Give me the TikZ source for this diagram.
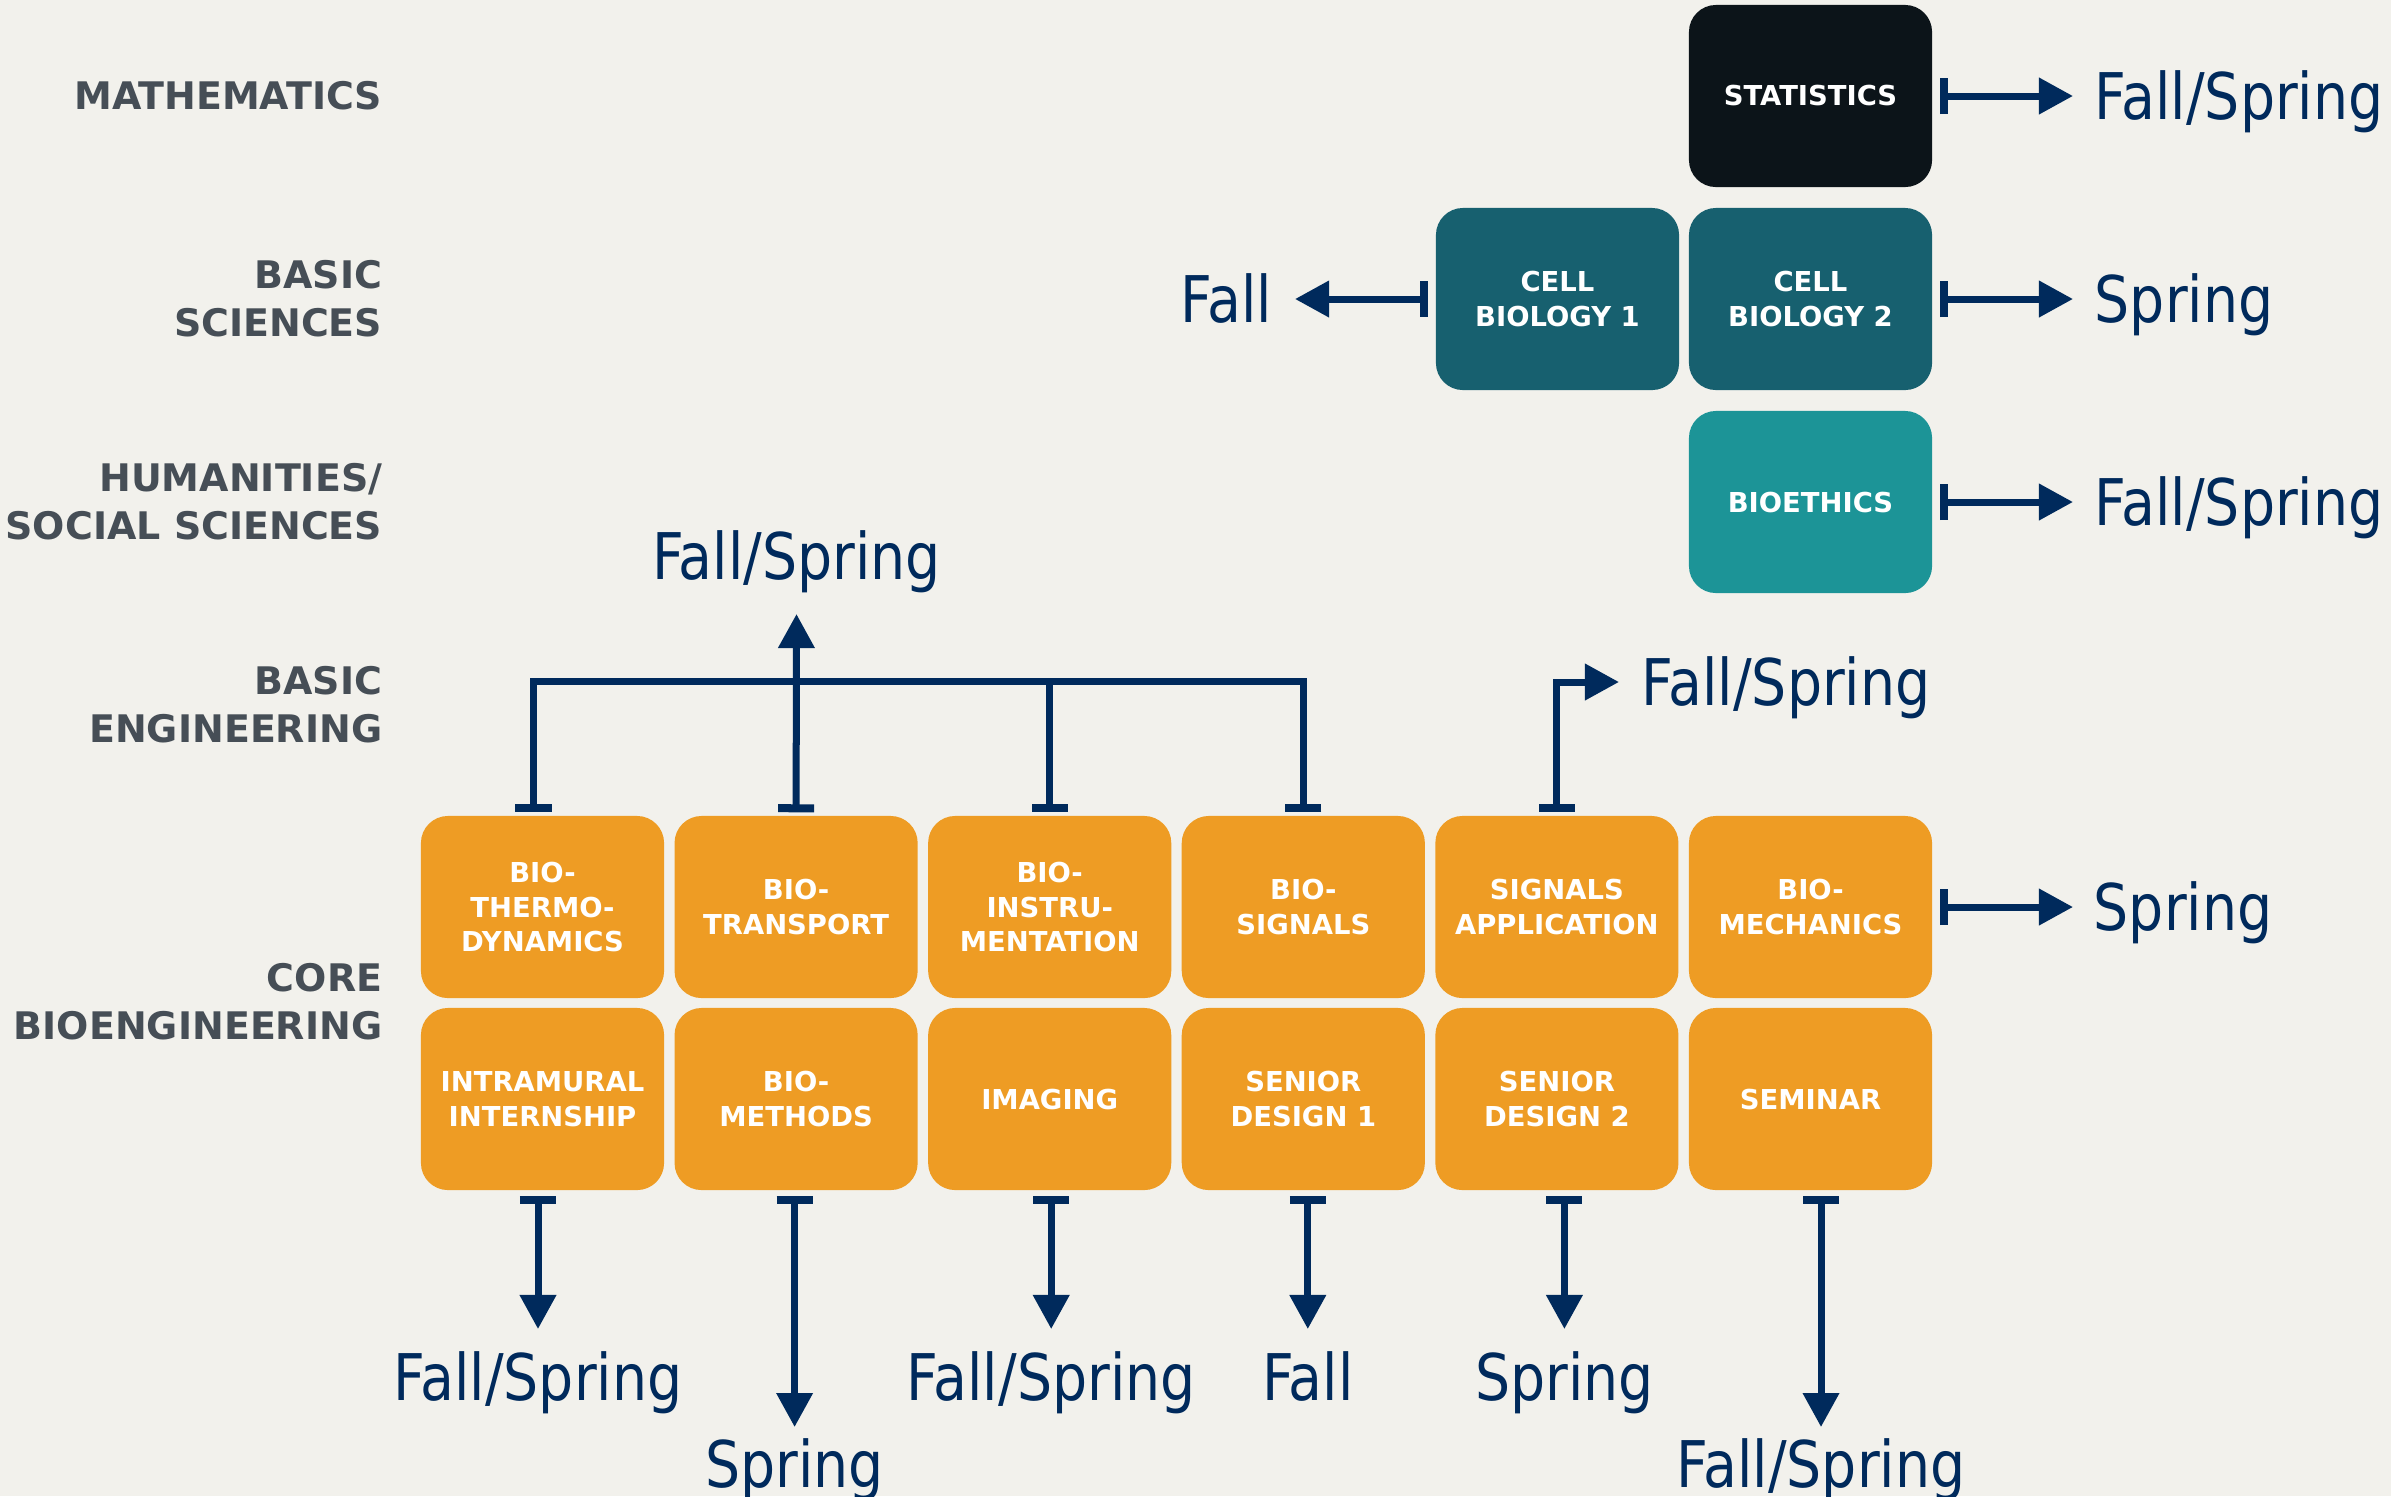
\documentclass[tikz,border=0pt]{standalone}
\usepackage{fontspec}
\setmainfont{DejaVu Sans}
\newfontfamily\termfont[FakeStretch=0.86]{DejaVu Sans}
\usetikzlibrary{arrows.meta}
\definecolor{paper}{HTML}{F2F1EC}
\definecolor{amber}{HTML}{EE9C24}
\definecolor{deepteal}{HTML}{17606F}
\definecolor{seateal}{HTML}{1C9497}
\definecolor{ink}{HTML}{0C1419}
\definecolor{navy}{HTML}{002A5C}
\definecolor{slate}{HTML}{464E56}

\tikzset{
  course/.style={rounded corners=2.7mm, minimum width=24.3mm, minimum height=18.2mm,
    inner sep=0pt, align=center, text=white,
    font=\fontsize{7.8}{9.9}\selectfont\bfseries},
  area/.style={anchor=east, align=right, inner sep=0pt, text=slate,
    font=\fontsize{10.8}{13.6}\selectfont\bfseries},
  term/.style={inner sep=0pt, text=navy, text height=13.4pt, text depth=0pt,
    font=\fontsize{18.3}{22}\selectfont\termfont},
  link/.style={draw=navy, line width=0.7mm,
    arrows={Bar[width=3.6mm,line width=0.8mm]-Triangle[length=3.4mm,width=3.5mm]}},
  stub/.style={draw=navy, line width=0.7mm, line join=miter,
    arrows={Bar[width=3.6mm,line width=0.8mm]-Bar[width=3.6mm,line width=0.8mm]}},
  feed/.style={draw=navy, line width=0.7mm, arrows={Bar[width=3.6mm,line width=0.8mm]-}}
}

\begin{document}
\begin{tikzpicture}[x=0.01cm,y=-0.01cm]
  \useasboundingbox (0,0) rectangle (2391,1496);
  \fill[paper] (0,0) rectangle (2391,1496);
  % row titles down the left
  \foreach \y/\t [count=\k] in {96/MATHEMATICS, 299/{BASIC\\SCIENCES},
      502/{HUMANITIES/\\SOCIAL SCIENCES}, 705/{BASIC\\ENGINEERING},
      1002/{CORE\\BIOENGINEERING}}
    \node[area] (area\k) at (383,\y) {\t};

  % upper courses
  \node[course, fill=ink] (stat) at (1810.5,96) {STATISTICS};
  \node[course, fill=deepteal] (cell1) at (1557.5,299) {CELL\\BIOLOGY 1};
  \node[course, fill=deepteal] (cell2) at (1810.5,299) {CELL\\BIOLOGY 2};
  \node[course, fill=seateal] (ethics) at (1810.5,502) {BIOETHICS};

  % core bioengineering grid, two rows
  \foreach \t/\b [count=\i] in {{BIO-\\THERMO-\\DYNAMICS}/{INTRAMURAL\\INTERNSHIP},
      {BIO-\\TRANSPORT}/{BIO-\\METHODS}, {BIO-\\INSTRU-\\MENTATION}/IMAGING,
      {BIO-\\SIGNALS}/{SENIOR\\DESIGN 1}, {SIGNALS\\APPLICATION}/{SENIOR\\DESIGN 2},
      {BIO-\\MECHANICS}/SEMINAR}{
    \node[course, fill=amber] (up\i) at (288.9+253.6*\i,907) {\t};
    \node[course, fill=amber] (lo\i) at (288.9+253.6*\i,1099) {\b};
  }

  % terms on the right and left
  \node[term, anchor=west] (whenStat) at (2094,96) {Fall/Spring};
  \node[term, anchor=west] (whenCell) at (2094,299) {Spring};
  \node[term, anchor=west] (whenEthics) at (2094,502) {Fall/Spring};
  \node[term, anchor=west] (whenMech) at (2093,907) {Spring};
  \node[term, anchor=east] (whenCellA) at (1273,299) {Fall};
  \draw[link] ([xshift=0.07cm]stat.east) -- ([xshift=-0.21cm]whenStat.west);
  \draw[link] ([xshift=0.07cm]cell2.east) -- ([xshift=-0.21cm]whenCell.west);
  \draw[link] ([xshift=0.07cm]ethics.east) -- ([xshift=-0.21cm]whenEthics.west);
  \draw[link] ([xshift=0.07cm]up6.east) -- ([xshift=-0.2cm]whenMech.west);
  \draw[link] ([xshift=-0.07cm]cell1.west) -- ([xshift=0.22cm]whenCellA.east);

  % basic engineering feeds
  \coordinate (hub) at (0,681);
  \node[term, anchor=south] (whenEng) at (796.5,580) {Fall/Spring};
  \node[term, anchor=west] (whenSig) at (1641,682) {Fall/Spring};
  \draw[stub] ([xshift=-0.09cm,yshift=0.03cm]up1.north) -- ([xshift=-0.09cm]up1.north |- hub)
    -- (up4.north |- hub) -- ([yshift=0.03cm]up4.north);
  \draw[feed] ([yshift=0.03cm]up3.north) -- (up3.north |- hub);
  \draw[link] ([yshift=0.03cm]up2.north) -- ([yshift=-0.34cm]whenEng.south);
  \draw[link, line join=miter] ([yshift=0.03cm]up5.north) |- ([xshift=-0.22cm]whenSig.west);

  % terms below the grid
  \foreach \i/\t/\y/\gap in {1/{Fall/Spring}/1353/0.24, 2/Spring/1440/0.13,
      3/{Fall/Spring}/1353/0.24, 4/Fall/1353/0.24, 5/Spring/1353/0.24,
      6/{Fall/Spring}/1440/0.13}{
    \node[term, anchor=north] (when\i) at (281.4+256.6*\i,\y) {\t};
    \path (when\i.north |- lo\i.south) coordinate (src\i);
    \draw[link] ([yshift=-0.05cm]src\i) -- ([yshift=\gap cm]when\i.north);
  }
\end{tikzpicture}
\end{document}
